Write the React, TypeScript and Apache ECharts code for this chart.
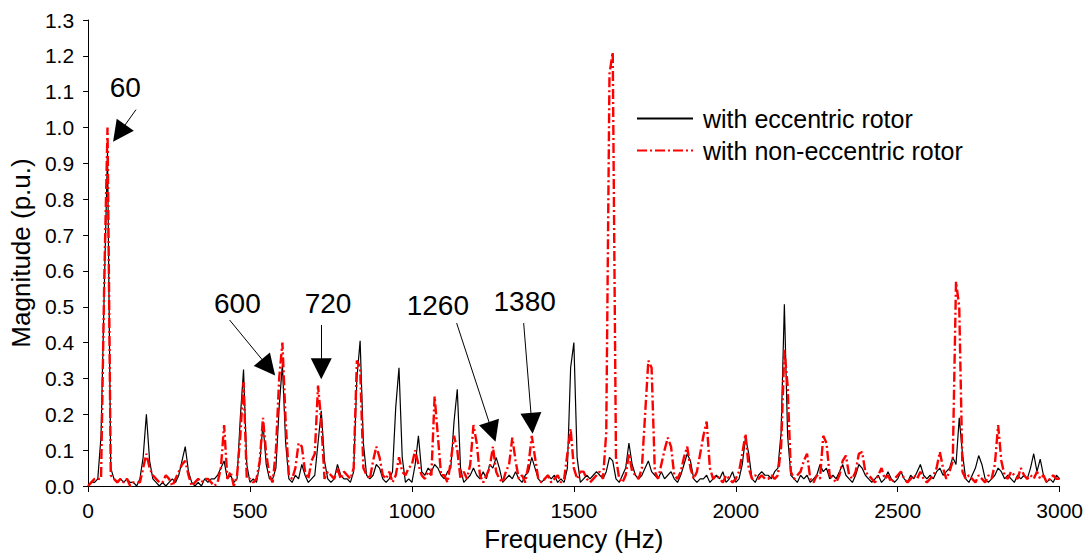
import React, { useEffect, useRef } from 'react';
import * as echarts from 'echarts';

const FREQ_STEP_HZ = 10;

const eccentric = [
  0.00, 0.01, 0.01, 0.02, 0.14, 0.55, 0.93, 0.05, 0.02, 0.01,
  0.02, 0.01, 0.02, 0.01, 0.01, 0.00, 0.02, 0.08, 0.20, 0.07,
  0.02, 0.01, 0.00, 0.01, 0.00, 0.01, 0.02, 0.01, 0.03, 0.07,
  0.11, 0.04, 0.01, 0.00, 0.01, 0.00, 0.02, 0.01, 0.02, 0.02,
  0.03, 0.05, 0.07, 0.02, 0.03, 0.01, 0.02, 0.19, 0.325, 0.06,
  0.01, 0.02, 0.01, 0.06, 0.175, 0.06, 0.02, 0.02, 0.05, 0.22,
  0.34, 0.12, 0.02, 0.01, 0.03, 0.02, 0.06, 0.03, 0.01, 0.02,
  0.03, 0.12, 0.21, 0.07, 0.02, 0.01, 0.02, 0.06, 0.03, 0.02,
  0.02, 0.01, 0.04, 0.30, 0.405, 0.12, 0.03, 0.02, 0.03, 0.06,
  0.05, 0.02, 0.01, 0.02, 0.04, 0.22, 0.33, 0.08, 0.01, 0.02,
  0.01, 0.06, 0.14, 0.04, 0.03, 0.05, 0.04, 0.06, 0.05, 0.03,
  0.02, 0.04, 0.05, 0.18, 0.27, 0.05, 0.01, 0.02, 0.03, 0.05,
  0.03, 0.02, 0.04, 0.02, 0.06, 0.05, 0.08, 0.05, 0.01, 0.02,
  0.03, 0.02, 0.04, 0.02, 0.01, 0.03, 0.04, 0.08, 0.05, 0.02,
  0.01, 0.02, 0.03, 0.02, 0.03, 0.01, 0.02, 0.01, 0.05, 0.33,
  0.40, 0.08, 0.01, 0.02, 0.03, 0.02, 0.03, 0.04, 0.03, 0.02,
  0.04, 0.08, 0.07, 0.02, 0.01, 0.03, 0.05, 0.12, 0.06, 0.03,
  0.02, 0.03, 0.05, 0.07, 0.04, 0.03, 0.02, 0.04, 0.02, 0.03,
  0.04, 0.02, 0.01, 0.03, 0.06, 0.09, 0.07, 0.02, 0.01, 0.02,
  0.02, 0.03, 0.01, 0.02, 0.03, 0.02, 0.04, 0.01, 0.02, 0.04,
  0.01, 0.02, 0.06, 0.135, 0.09, 0.02, 0.01, 0.03, 0.04, 0.03,
  0.03, 0.02, 0.04, 0.05, 0.15, 0.507, 0.14, 0.03, 0.02, 0.01,
  0.03, 0.02, 0.03, 0.01, 0.02, 0.03, 0.06, 0.04, 0.05, 0.02,
  0.03, 0.02, 0.04, 0.06, 0.03, 0.02, 0.01, 0.03, 0.06, 0.05,
  0.03, 0.02, 0.01, 0.02, 0.03, 0.01, 0.02, 0.04, 0.02, 0.01,
  0.02, 0.04, 0.02, 0.01, 0.03, 0.02, 0.04, 0.06, 0.03, 0.02,
  0.03, 0.02, 0.04, 0.05, 0.03, 0.04, 0.05, 0.08, 0.06, 0.19,
  0.09, 0.02, 0.01, 0.03, 0.05, 0.085, 0.06, 0.02, 0.01, 0.02,
  0.03, 0.05, 0.04, 0.02, 0.03, 0.02, 0.01, 0.03, 0.02, 0.03,
  0.02, 0.05, 0.09, 0.04, 0.075, 0.03, 0.01, 0.02, 0.01, 0.03,
  0.02,
];

const nonEccentric = [
  0.00, 0.01, 0.02, 0.02, 0.02, 0.58, 1.00, 0.03, 0.02, 0.01,
  0.02, 0.01, 0.02, 0.00, 0.01, 0.01, 0.01, 0.05, 0.09, 0.05,
  0.03, 0.02, 0.01, 0.01, 0.03, 0.02, 0.00, 0.02, 0.04, 0.06,
  0.07, 0.03, 0.00, 0.01, 0.02, 0.01, 0.02, 0.02, 0.01, 0.00,
  0.01, 0.05, 0.17, 0.02, 0.04, 0.00, 0.03, 0.14, 0.29, 0.02,
  0.02, 0.01, 0.02, 0.07, 0.19, 0.09, 0.03, 0.01, 0.10, 0.30,
  0.40, 0.18, 0.03, 0.02, 0.05, 0.12, 0.11, 0.04, 0.02, 0.07,
  0.09, 0.28, 0.18, 0.02, 0.04, 0.03, 0.02, 0.05, 0.02, 0.04,
  0.03, 0.02, 0.05, 0.35, 0.33, 0.05, 0.03, 0.02, 0.07, 0.11,
  0.08, 0.03, 0.02, 0.04, 0.01, 0.03, 0.08, 0.04, 0.03, 0.05,
  0.06, 0.10, 0.06, 0.03, 0.02, 0.04, 0.03, 0.25, 0.14, 0.03,
  0.03, 0.01, 0.07, 0.14, 0.10, 0.02, 0.04, 0.02, 0.06, 0.17,
  0.12, 0.03, 0.01, 0.03, 0.05, 0.11, 0.04, 0.02, 0.01, 0.04,
  0.06, 0.135, 0.07, 0.02, 0.03, 0.01, 0.06, 0.14, 0.08, 0.02,
  0.01, 0.02, 0.03, 0.01, 0.02, 0.03, 0.01, 0.02, 0.09, 0.16,
  0.05, 0.02, 0.04, 0.04, 0.02, 0.01, 0.02, 0.03, 0.04, 0.02,
  0.15, 1.15, 1.21, 0.08, 0.02, 0.01, 0.03, 0.09, 0.04, 0.03,
  0.02, 0.05, 0.20, 0.35, 0.33, 0.04, 0.02, 0.06, 0.10, 0.135,
  0.11, 0.03, 0.02, 0.04, 0.08, 0.11, 0.05, 0.02, 0.04, 0.09,
  0.14, 0.18, 0.05, 0.02, 0.03, 0.02, 0.01, 0.03, 0.02, 0.01,
  0.02, 0.04, 0.09, 0.145, 0.05, 0.02, 0.03, 0.02, 0.03, 0.02,
  0.02, 0.03, 0.02, 0.03, 0.11, 0.38, 0.28, 0.04, 0.02, 0.03,
  0.04, 0.07, 0.09, 0.02, 0.01, 0.03, 0.02, 0.14, 0.12, 0.03,
  0.02, 0.01, 0.03, 0.07, 0.085, 0.03, 0.02, 0.04, 0.09, 0.095,
  0.04, 0.03, 0.02, 0.01, 0.03, 0.05, 0.02, 0.03, 0.01, 0.02,
  0.03, 0.04, 0.02, 0.01, 0.02, 0.03, 0.02, 0.04, 0.02, 0.01,
  0.02, 0.03, 0.05, 0.095, 0.05, 0.02, 0.04, 0.07, 0.57, 0.50,
  0.04, 0.02, 0.03, 0.02, 0.01, 0.03, 0.02, 0.01, 0.03, 0.02,
  0.06, 0.17, 0.07, 0.03, 0.02, 0.04, 0.03, 0.02, 0.05, 0.03,
  0.02, 0.03, 0.02, 0.04, 0.02, 0.03, 0.01, 0.02, 0.03, 0.02,
  0.02,
];

const seriesNames = ['with eccentric rotor', 'with non-eccentric rotor'];

// Annotations (data coordinates: [Hz, p.u.])
const annotationLabels = ['60', '600', '720', '1260', '1380'];
const annotationTextAt = [[115, 1.111], [461, 0.51], [741, 0.51], [1080, 0.504], [1348, 0.515]];
const arrowFrom = [[148, 1.05], [437, 0.463], [720, 0.449], [1138, 0.4545], [1345, 0.4545]];
const arrowTo = [[96, 0.984], [557, 0.331], [720, 0.327], [1248, 0.151], [1370, 0.175]];

const FONT = "'Liberation Sans', Arial, Helvetica, sans-serif";

export default function App() {
  const ref = useRef<HTMLDivElement>(null);

  useEffect(() => {
    if (!ref.current) return;
    const chart = echarts.init(ref.current, null, { renderer: 'svg' });
    const toPairs = (arr: number[]) => arr.map((v, i) => [i * FREQ_STEP_HZ, v]);

    chart.setOption({
      animation: false,
      backgroundColor: '#ffffff',
      textStyle: { fontFamily: FONT },
      grid: { left: 85, right: 26, top: 20, bottom: 68, containLabel: false },
      legend: {
        orient: 'vertical',
        left: 631,
        top: 101,
        itemWidth: 56,
        itemHeight: 14,
        itemGap: 7,
        data: seriesNames,
        itemStyle: { opacity: 0 },
        textStyle: { fontSize: 25, color: '#000', fontFamily: FONT, padding: [0, 0, 0, 5] },
      },
      xAxis: {
        type: 'value',
        min: 0,
        max: 3000,
        interval: 500,
        name: 'Frequency (Hz)',
        nameLocation: 'middle',
        nameGap: 40,
        nameTextStyle: { fontSize: 26, color: '#000', fontFamily: FONT },
        axisLine: { show: true, onZero: false, lineStyle: { color: '#000', width: 1 } },
        axisTick: { show: true, length: 6, lineStyle: { color: '#000' } },
        axisLabel: {
          fontSize: 21,
          color: '#000',
          margin: 14,
          fontFamily: FONT,
          formatter: (v: number) => String(v),
        },
        splitLine: { show: false },
      },
      yAxis: {
        type: 'value',
        min: 0,
        max: 1.3,
        interval: 0.1,
        name: 'Magnitude (p.u.)',
        nameLocation: 'middle',
        nameGap: 50,
        nameTextStyle: { fontSize: 26, color: '#000', fontFamily: FONT },
        axisLine: { show: true, lineStyle: { color: '#000', width: 1 } },
        axisTick: { show: true, length: 5, lineStyle: { color: '#000' } },
        axisLabel: {
          fontSize: 21,
          color: '#000',
          margin: 14,
          fontFamily: FONT,
          formatter: (v: number) => v.toFixed(1),
        },
        splitLine: { show: false },
      },
      series: [
        {
          name: seriesNames[0],
          type: 'line',
          data: toPairs(eccentric),
          symbol: 'none',
          showSymbol: false,
          lineStyle: { color: '#000', width: 1.2 },
          itemStyle: { color: '#000' },
          z: 2,
          markLine: {
            silent: true,
            symbol: ['none', 'triangle'],
            symbolSize: 21,
            lineStyle: { color: '#000', width: 1, type: 'solid' },
            itemStyle: { color: '#000' },
            label: { show: false },
            emphasis: { disabled: true },
            data: arrowFrom.map((f, i) => [{ coord: f }, { coord: arrowTo[i] }]),
          },
          markPoint: {
            silent: true,
            symbol: 'rect',
            symbolSize: 1,
            itemStyle: { color: 'rgba(0,0,0,0)' },
            label: {
              show: true,
              position: 'inside',
              formatter: '{b}',
              fontSize: 28,
              color: '#000',
              fontFamily: FONT,
            },
            data: annotationLabels.map((t, i) => ({ name: t, coord: annotationTextAt[i] })),
          },
        },
        {
          name: seriesNames[1],
          type: 'line',
          data: toPairs(nonEccentric),
          symbol: 'none',
          showSymbol: false,
          lineStyle: { color: '#ff0000', width: 2.4, type: [10, 3, 2, 3] },
          itemStyle: { color: '#ff0000' },
          z: 3,
        },
      ],
    });

    return () => chart.dispose();
  }, []);

  return (
    <div
      ref={ref}
      style={{ position: 'fixed', left: 0, top: 0, width: 1086, height: 557, background: '#fff' }}
    />
  );
}
